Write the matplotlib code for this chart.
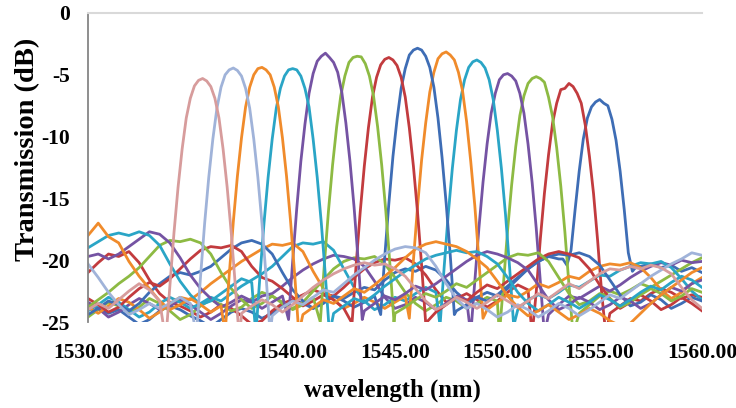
import numpy as np
import matplotlib
matplotlib.use("Agg")
import matplotlib.pyplot as plt

N = np.nan

# ---------------- data ----------------
x_ticks = [1530, 1535, 1540, 1545, 1550, 1555, 1560]
x_tick_labels = ["1530.00", "1535.00", "1540.00", "1545.00", "1550.00", "1555.00", "1560.00"]
y_ticks = [0, -5, -10, -15, -20, -25]
y_tick_labels = ["0", "-5", "-10", "-15", "-20", "-25"]

# channel centre wavelengths (nm), drawing order = Excel series order
centers = [1555.0, 1553.5, 1551.9, 1550.5, 1549.0, 1547.5, 1546.1,
           1544.7, 1543.15, 1541.6, 1540.0, 1538.5, 1537.1, 1535.6]
colors = ["#3e6db5", "#c23b3e", "#8dba43", "#7553a3", "#2aa5c6", "#f08b2b", "#3e6db5",
          "#c23b3e", "#8dba43", "#7553a3", "#2aa5c6", "#f08b2b", "#a0b3d9", "#d79c9c"]

# passband samples: offsets from the centre (nm) and the read dB values per channel
peak_offsets = [-1.8, -1.6, -1.4, -1.2, -1.0, -0.8, -0.6, -0.4, -0.2, 0.0,
                0.2, 0.4, 0.6, 0.8, 1.0, 1.2, 1.4, 1.6, 1.8]
peak_db = [
    [-19.9, -20.4, -19.2, -15.9, -12.8, -10.2, -8.5, -7.6, -7.2, -7.0, -7.3, -7.5, -8.6, -10.3, -12.8, -15.9, -19.4, -20.9, -20.5],
    [-26.0, -22.6, -18.3, -14.6, -11.5, -8.9, -7.3, -6.2, -6.1, -5.7, -5.95, -6.5, -7.3, -9.1, -11.6, -14.6, -18.4, -22.7, -26.0],
    [-26.0, -21.9, -17.6, -13.9, -10.8, -8.3, -6.7, -5.7, -5.3, -5.15, -5.3, -5.6, -6.8, -8.4, -10.9, -14.0, -17.7, -22.0, -26.0],
    [-26.0, -21.7, -17.4, -13.7, -10.6, -8.1, -6.5, -5.4, -5.0, -4.9, -5.1, -5.5, -6.5, -8.1, -10.6, -13.7, -17.4, -21.7, -26.0],
    [-25.3, -20.6, -16.3, -12.6, -9.5, -7.0, -5.4, -4.4, -3.95, -3.8, -4.0, -4.45, -5.4, -7.0, -9.5, -12.6, -16.3, -20.6, -25.3],
    [-24.7, -20.0, -15.7, -11.9, -8.9, -6.4, -4.8, -3.7, -3.3, -3.15, -3.4, -3.8, -4.8, -6.3, -8.8, -12.0, -15.6, -20.0, -24.7],
    [-24.4, -19.7, -15.4, -11.6, -8.6, -6.1, -4.5, -3.4, -3.0, -2.85, -3.0, -3.5, -4.4, -6.0, -8.5, -11.7, -15.4, -19.6, -24.4],
    [-25.1, -20.4, -16.1, -12.4, -9.3, -6.8, -5.2, -4.2, -3.75, -3.6, -3.8, -4.25, -5.2, -6.8, -9.3, -12.4, -16.1, -20.4, -25.1],
    [-25.0, -20.3, -16.0, -12.3, -9.2, -6.7, -5.1, -4.0, -3.6, -3.5, -3.55, -4.1, -5.1, -6.7, -9.2, -12.3, -16.0, -20.3, -25.0],
    [-24.8, -20.1, -15.8, -12.0, -9.0, -6.5, -4.9, -3.9, -3.5, -3.25, -3.6, -4.0, -4.8, -6.4, -8.9, -12.0, -15.7, -20.0, -24.8],
    [-26.0, -21.3, -17.0, -13.3, -10.2, -7.7, -6.1, -5.1, -4.6, -4.5, -4.6, -5.1, -6.1, -7.6, -10.2, -13.3, -17.0, -21.3, -26.0],
    [-25.9, -21.2, -16.9, -13.2, -10.1, -7.6, -6.0, -5.0, -4.5, -4.4, -4.6, -5.0, -6.0, -7.6, -10.1, -13.2, -16.9, -21.2, -25.9],
    [-26.0, -21.3, -17.0, -13.3, -10.2, -7.7, -6.0, -5.0, -4.6, -4.45, -4.65, -5.1, -6.1, -7.7, -10.2, -13.3, -17.0, -21.3, -26.0],
    [-26.5, -22.1, -17.8, -14.1, -11.0, -8.5, -6.9, -5.9, -5.45, -5.3, -5.5, -5.95, -6.9, -8.5, -11.0, -14.1, -17.8, -22.1, -26.5],
]

# out-of-band (floor) samples every 0.5 nm from 1530 to 1560 (N = inside passband)
floor_wl = np.arange(1530.0, 1560.01, 0.5)
floor_db = [
    [-23.6, -23.9, -24.3, -24.0, -24.6, -25.2, -24.8, -24.1, -23.7, -24.0,
     -24.5, -24.9, -25.4, -24.8, -24.2, -23.9, -24.2, -24.7, -24.3, -23.6,
     -23.2, -23.5, -23.9, -23.4, -22.9, -23.1, -22.6, -22.2, -22.4, -21.6,
     -21.0, -20.7, -20.9, -20.5, -20.8, -21.6, -22.6, -23.3, -23.0, -22.6,
     -22.9, -22.3, -21.5, -20.7, -20.1, -19.7, -19.9, N, N, N,
     N, N, N, N, -20.5, -20.3, -20.6, -20.4, -20.9, -20.6,
     -21.0],
    [-21.0, -20.2, -19.5, -19.7, -19.3, -20.2, -21.6, -22.7, -23.4, -23.7,
     -24.1, -24.6, -24.2, -23.6, -23.9, -24.5, -25.2, -24.9, -24.1, -23.5,
     -23.2, -22.8, -22.4, -22.7, -22.9, -22.2, -21.4, -20.7, -20.2, -19.9,
     -20.0, -19.8, -20.3, -21.2, -22.4, -23.4, -23.1, -22.7, -23.2, -23.8,
     -23.3, -22.6, -22.0, -22.4, N, N, N, N, N, N,
     N, -24.3, -23.7, -23.1, -23.3, -22.7, -22.3, -22.6, -23.1, -22.8,
     -23.0],
    [-24.6, -24.0, -23.4, -23.7, -24.2, -23.8, -23.1, -23.5, -24.1, -24.8,
     -24.4, -23.7, -23.2, -23.6, -24.1, -23.8, -23.1, -22.6, -22.9, -23.5,
     -23.9, -23.4, -22.5, -21.6, -20.7, -20.1, -19.8, -19.9, -19.7, -20.3,
     -21.4, -22.6, -23.5, -24.1, -23.6, -23.0, -23.3, -23.9, -23.5, -23.0,
     -23.3, N, N, N, N, N, N, N, -24.3, -23.6,
     -22.9, -22.5, -22.8, -22.4, -21.9, -22.2, -21.7, -21.2, -20.7, -20.2,
     -19.8],
    [-23.4, -23.9, -24.6, -24.2, -23.6, -23.1, -23.5, -24.0, -23.7, -23.2,
     -23.6, -24.2, -24.8, -24.3, -23.7, -23.2, -23.4, -22.9, -22.7, -22.1,
     -21.4, -20.8, -20.3, -19.9, -19.6, -19.7, -19.9, -20.5, -21.7, -23.0,
     -23.9, -23.6, -23.0, -23.4, -24.0, -23.5, -22.9, -23.2, N, N,
     N, N, N, N, N, -24.4, -23.6, -22.9, -23.1, -22.6,
     -22.1, -22.5, -22.0, -21.4, -20.9, -20.5, -20.2, -20.4, -20.0, -20.2,
     -20.1],
    [-24.1, -23.6, -23.0, -23.4, -24.0, -24.6, -24.2, -23.5, -23.0, -23.4,
     -23.9, -23.5, -23.0, -23.3, -22.7, -22.1, -21.6, -21.1, -20.5, -19.7,
     -18.9, -18.6, -18.7, -18.5, -19.2, -20.7, -22.2, -23.3, -24.0, -23.6,
     -23.0, -23.3, -22.7, -22.2, -22.6, N, N, N, N, N,
     N, N, -24.0, -23.2, -22.8, -23.1, -22.6, -22.0, -22.2, -21.7,
     -21.2, -21.3, -20.8, -20.5, -20.2, -20.3, -20.1, -20.6, -21.5, -22.5,
     -23.2],
    [-23.8, -24.3, -23.7, -23.1, -23.4, -24.0, -24.7, -24.2, -23.5, -23.0,
     -23.2, -22.6, -21.9, -21.3, -20.7, -20.1, -19.6, -19.1, -18.7, -18.8,
     -18.6, -19.3, -20.9, -22.3, -23.2, -23.9, -23.5, -23.0, -23.4, -23.9,
     -23.4, -22.9, N, N, N, N, N, N, N, -24.0,
     -23.4, -22.8, -23.0, -22.5, -21.9, -22.2, -21.8, -21.3, -21.5, -20.9,
     -20.5, -20.3, -20.4, -20.2, -20.6, -21.4, -22.4, -23.1, -22.6, -21.9,
     -21.4],
    [-24.4, -23.9, -23.3, -23.6, -24.1, -23.5, -22.6, -21.9, -21.3, -21.0,
     -21.2, -20.9, -20.5, -19.8, -19.1, -18.6, -18.4, -18.7, -19.5, -21.0,
     -22.4, -23.3, -23.9, -23.5, -22.9, -23.3, -23.8, -23.4, -22.9, N,
     N, N, N, N, N, N, -24.1, -23.6, -23.0, -23.3,
     -22.8, -22.1, -21.4, -20.7, -20.1, -19.7, -19.5, -19.6, -19.4, -19.7,
     -20.4, -21.6, -22.8, -23.7, -23.4, -22.8, -23.2, -23.9, -23.5, -23.0,
     -23.3],
    [-23.1, -23.6, -24.2, -23.8, -23.0, -22.3, -21.8, -22.1, -21.5, -20.7,
     -19.9, -19.2, -18.9, -19.0, -18.8, -19.3, -20.5, -21.4, -21.7, -22.3,
     -23.0, -23.7, -23.3, -22.8, -23.2, -23.9, N, N, N, N,
     N, N, N, N, -24.2, -23.6, -23.0, -23.3, -22.6, -22.0,
     -22.3, -21.7, -21.1, -20.5, -19.9, -19.5, -19.3, -19.5, -19.8, -20.7,
     -22.0, -23.1, -23.9, -23.4, -22.8, -23.3, -24.0, -23.6, -23.0, -23.5,
     -24.1],
    [-23.8, -23.2, -22.6, -21.9, -21.3, -20.6, -19.7, -18.8, -18.4, -18.5,
     -18.3, -18.6, -19.5, -21.0, -22.3, -23.2, -23.9, -23.5, -22.9, -23.4,
     -24.0, -23.6, -23.0, N, N, N, N, N, N, N,
     -24.3, -23.8, -23.2, -22.7, -23.0, -22.5, -21.9, -22.2, -21.6, -21.0,
     -20.4, -19.8, -19.5, -19.6, -19.4, -20.1, -21.4, -22.7, -23.6, -23.3,
     -22.7, -23.1, -23.8, -23.4, -22.8, -22.3, -22.7, -23.3, -22.9, -22.3,
     -22.6],
    [-19.7, -19.5, -19.9, -19.5, -18.9, -18.3, -17.7, -17.9, -18.6, -19.8,
     -21.2, -22.3, -23.1, -23.8, -23.4, -22.9, -23.3, -23.9, -23.4, -22.9,
     N, N, N, N, N, N, N, -24.1, -23.5, -22.9,
     -23.2, -22.7, -22.1, -22.4, -21.9, -21.3, -20.7, -20.1, -19.6, -19.3,
     -19.5, -19.8, -20.2, -20.8, -22.0, -23.2, -24.0, -23.6, -23.0, -23.4,
     -24.0, -23.6, -23.0, -23.3, -23.9, -23.5, -22.8, -22.2, -22.5, -21.9,
     -21.6],
    [-19.0, -18.5, -18.0, -17.8, -18.0, -17.7, -18.0, -18.8, -20.3, -21.7,
     -22.8, -23.6, -23.3, -22.7, -22.1, -21.5, -21.8, N, N, N,
     N, N, N, N, -24.3, -23.7, -23.1, -23.4, -22.8, -22.1,
     -21.5, -20.9, -20.4, -19.9, -19.6, -19.4, -19.2, -19.4, -19.3, -19.7,
     -20.3, -21.4, -22.6, -23.5, -24.1, -23.6, -23.0, -23.4, -23.9, -23.4,
     -22.8, -23.2, -23.7, -23.2, -22.6, -22.1, -22.4, -21.8, -21.3, -21.6,
     -22.2],
    [-18.0, -17.0, -18.1, -18.6, -20.1, -21.3, -22.3, -23.3, -24.0, -23.6,
     -23.1, -23.6, -24.2, -23.7, N, N, N, N, N, N,
     N, -24.4, -23.8, -23.2, -23.5, -22.9, -22.3, -22.6, -22.0, -21.3,
     -20.6, -19.8, -19.1, -18.7, -18.5, -18.7, -18.9, -19.3, -19.9, -20.6,
     -21.7, -22.9, -23.8, -24.5, -24.1, -23.6, -24.2, -24.8, -24.4, -23.9,
     -24.3, -24.9, -25.3, -25.1, -24.3, -23.5, -22.8, -22.2, -21.6, -21.0,
     -20.6],
    [-20.3, -21.4, -22.6, -23.6, -24.4, -24.0, -23.5, -23.9, -23.5, -23.0,
     -23.5, N, N, N, N, N, N, N, -24.5, -23.8,
     -23.3, -23.6, -23.0, -22.4, -22.6, -21.9, -21.2, -20.6, -20.0, -19.5,
     -19.1, -18.9, -19.0, -19.4, -20.5, -21.9, -23.1, -23.9, -23.5, -24.0,
     -24.6, -24.2, -23.6, -24.0, -24.6, -24.1, -23.5, -23.9, -24.5, -24.0,
     -23.4, -22.8, -23.1, -22.5, -21.9, -21.3, -20.8, -20.3, -19.9, -19.4,
     -19.6],
    [-24.0, -23.5, -23.9, -23.2, -22.5, -21.9, -22.4, -23.3, N, N,
     N, N, N, N, N, -24.3, -23.7, -23.2, -23.6, -24.2,
     -23.6, -22.9, -22.2, -21.6, -21.1, -20.7, -20.4, -20.2, -20.4, -20.3,
     -20.7, -21.3, -22.3, -23.3, -24.0, -23.6, -23.0, -23.4, -23.9, -23.4,
     -22.8, -23.3, -23.8, -23.3, -22.7, -23.1, -22.5, -21.9, -22.3, -21.7,
     -21.1, -20.7, -20.8, -20.5, -20.7, -20.4, -20.6, -21.1, -22.2, -23.2,
     -23.9],
]

# ---------------- drawing ----------------
SERIF = ["Liberation Serif", "DejaVu Serif"]
fig = plt.figure(figsize=(7.36, 4.08), dpi=100)
ax = fig.add_axes([88 / 736, 1 - 322 / 408, 614 / 736, 309 / 408])

for c, col, pk, fl in zip(centers, colors, peak_db, floor_db):
    fl = np.asarray(fl, dtype=float)
    keep = ~np.isnan(fl)
    wl = np.concatenate([floor_wl[keep], c + np.asarray(peak_offsets)])
    db = np.concatenate([fl[keep], np.asarray(pk, dtype=float)])
    order = np.argsort(wl)
    ax.plot(wl[order], db[order], color=col, lw=2.0, solid_joinstyle="round")

ax.set_xlim(1530, 1560)
ax.set_ylim(-25, 0)
ax.set_xticks(x_ticks)
ax.set_xticklabels(x_tick_labels, family=SERIF, fontweight="bold", fontsize=15.5)
ax.set_yticks(y_ticks)
ax.set_yticklabels(y_tick_labels, family=SERIF, fontweight="bold", fontsize=15.5)
ax.tick_params(axis="x", length=0, pad=15)
ax.tick_params(axis="y", length=0, pad=13)

for s in ("right", "bottom"):
    ax.spines[s].set_visible(False)
ax.spines["top"].set_color("#d9d9d9")
ax.spines["top"].set_linewidth(1.5)
ax.spines["left"].set_color("#868686")
ax.spines["left"].set_linewidth(1.3)

ax.set_xlabel("wavelength (nm)", family=SERIF, fontweight="bold", fontsize=17.8)
ax.xaxis.set_label_coords(0.496, -0.22)
ax.xaxis.label.set_va("center")
ax.set_ylabel("Transmission (dB)", family=SERIF, fontweight="bold", fontsize=20.5)
ax.yaxis.set_label_coords(-0.098, 0.56)
ax.yaxis.label.set_va("center")

fig.savefig("out.png", dpi=100)
